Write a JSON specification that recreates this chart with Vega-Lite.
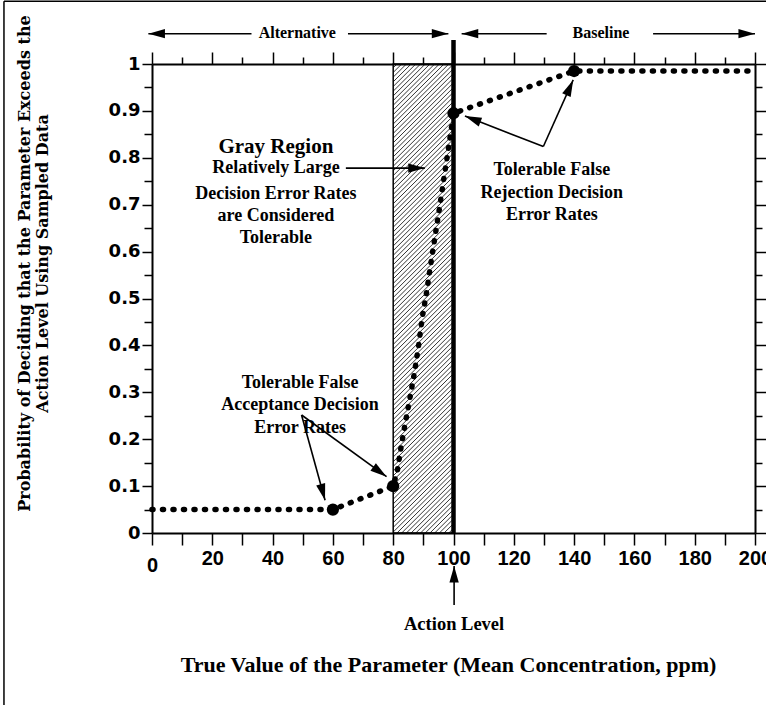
{
  "$schema": "https://vega.github.io/schema/vega-lite/v6.json",
  "width": 603,
  "height": 469,
  "autosize": {"type": "none"},
  "padding": {"left": 152, "top": 64, "right": 11, "bottom": 184},
  "background": "white",
  "config": {
    "view": {"stroke": null},
    "axis": {"grid": false, "domainColor": "black", "tickColor": "black", "labelColor": "black", "titleColor": "black"}
  },
  "datasets": {
    "curve": [
      {"x": 0, "y": 0.05}, {"x": 60, "y": 0.05}, {"x": 80, "y": 0.1},
      {"x": 81.4, "y": 0.134}, {"x": 82.8, "y": 0.191}, {"x": 84.2, "y": 0.241},
      {"x": 85.6, "y": 0.29}, {"x": 87, "y": 0.34}, {"x": 88.3, "y": 0.394},
      {"x": 89.7, "y": 0.462}, {"x": 91, "y": 0.51}, {"x": 92.5, "y": 0.575},
      {"x": 94.2, "y": 0.646}, {"x": 95.6, "y": 0.703}, {"x": 96.9, "y": 0.76},
      {"x": 98.1, "y": 0.81}, {"x": 99.2, "y": 0.859}, {"x": 100, "y": 0.895},
      {"x": 140, "y": 0.985}, {"x": 200, "y": 0.985}
    ],
    "dots": [
      {"x": 60, "y": 0.05}, {"x": 80, "y": 0.1}, {"x": 100, "y": 0.895}, {"x": 140, "y": 0.985}
    ],
    "hatch": [
      {"a":-0.128,"b":0},{"a":-0.118,"b":0.01},{"a":-0.108,"b":0.02},{"a":-0.098,"b":0.03},{"a":-0.088,"b":0.04},
      {"a":-0.078,"b":0.05},{"a":-0.068,"b":0.06},{"a":-0.058,"b":0.07},{"a":-0.048,"b":0.08},{"a":-0.038,"b":0.09},
      {"a":-0.028,"b":0.1},{"a":-0.018,"b":0.11},{"a":-0.008,"b":0.12},{"a":0.002,"b":0.13},{"a":0.012,"b":0.14},
      {"a":0.022,"b":0.15},{"a":0.032,"b":0.16},{"a":0.042,"b":0.17},{"a":0.052,"b":0.18},{"a":0.062,"b":0.19},
      {"a":0.072,"b":0.2},{"a":0.082,"b":0.21},{"a":0.092,"b":0.22},{"a":0.102,"b":0.23},{"a":0.112,"b":0.24},
      {"a":0.122,"b":0.25},{"a":0.132,"b":0.26},{"a":0.142,"b":0.27},{"a":0.152,"b":0.28},{"a":0.162,"b":0.29},
      {"a":0.172,"b":0.3},{"a":0.182,"b":0.31},{"a":0.192,"b":0.32},{"a":0.202,"b":0.33},{"a":0.212,"b":0.34},
      {"a":0.222,"b":0.35},{"a":0.232,"b":0.36},{"a":0.242,"b":0.37},{"a":0.252,"b":0.38},{"a":0.262,"b":0.39},
      {"a":0.272,"b":0.4},{"a":0.282,"b":0.41},{"a":0.292,"b":0.42},{"a":0.302,"b":0.43},{"a":0.312,"b":0.44},
      {"a":0.322,"b":0.45},{"a":0.332,"b":0.46},{"a":0.342,"b":0.47},{"a":0.352,"b":0.48},{"a":0.362,"b":0.49},
      {"a":0.372,"b":0.5},{"a":0.382,"b":0.51},{"a":0.392,"b":0.52},{"a":0.402,"b":0.53},{"a":0.412,"b":0.54},
      {"a":0.422,"b":0.55},{"a":0.432,"b":0.56},{"a":0.442,"b":0.57},{"a":0.452,"b":0.58},{"a":0.462,"b":0.59},
      {"a":0.472,"b":0.6},{"a":0.482,"b":0.61},{"a":0.492,"b":0.62},{"a":0.502,"b":0.63},{"a":0.512,"b":0.64},
      {"a":0.522,"b":0.65},{"a":0.532,"b":0.66},{"a":0.542,"b":0.67},{"a":0.552,"b":0.68},{"a":0.562,"b":0.69},
      {"a":0.572,"b":0.7},{"a":0.582,"b":0.71},{"a":0.592,"b":0.72},{"a":0.602,"b":0.73},{"a":0.612,"b":0.74},
      {"a":0.622,"b":0.75},{"a":0.632,"b":0.76},{"a":0.642,"b":0.77},{"a":0.652,"b":0.78},{"a":0.662,"b":0.79},
      {"a":0.672,"b":0.8},{"a":0.682,"b":0.81},{"a":0.692,"b":0.82},{"a":0.702,"b":0.83},{"a":0.712,"b":0.84},
      {"a":0.722,"b":0.85},{"a":0.732,"b":0.86},{"a":0.742,"b":0.87},{"a":0.752,"b":0.88},{"a":0.762,"b":0.89},
      {"a":0.772,"b":0.9},{"a":0.782,"b":0.91},{"a":0.792,"b":0.92},{"a":0.802,"b":0.93},{"a":0.812,"b":0.94},
      {"a":0.822,"b":0.95},{"a":0.832,"b":0.96},{"a":0.842,"b":0.97},{"a":0.852,"b":0.98},{"a":0.862,"b":0.99},
      {"a":0.872,"b":1},{"a":0.882,"b":1.01},{"a":0.892,"b":1.02},{"a":0.902,"b":1.03},{"a":0.912,"b":1.04},
      {"a":0.922,"b":1.05},{"a":0.932,"b":1.06},{"a":0.942,"b":1.07},{"a":0.952,"b":1.08},{"a":0.962,"b":1.09},
      {"a":0.972,"b":1.1},{"a":0.982,"b":1.11},{"a":0.992,"b":1.12},{"a":1.002,"b":1.13}
    ],
    "arrows": [
      {"id": "altL", "x1": 33, "y1": 1.0646, "x2": -1.2, "y2": 1.0646},
      {"id": "altR", "x1": 65, "y1": 1.0646, "x2": 98.3, "y2": 1.0646},
      {"id": "baseL", "x1": 130.9, "y1": 1.0646, "x2": 102.7, "y2": 1.0646},
      {"id": "baseR", "x1": 166.2, "y1": 1.0646, "x2": 200, "y2": 1.0646},
      {"id": "gray", "x1": 64.3, "y1": 0.778, "x2": 90.5, "y2": 0.778},
      {"id": "rej1", "x1": 129.8, "y1": 0.824, "x2": 103.8, "y2": 0.889},
      {"id": "rej2", "x1": 129.8, "y1": 0.824, "x2": 139.7, "y2": 0.966},
      {"id": "acc1", "x1": 49.6, "y1": 0.2516, "x2": 57.4, "y2": 0.07},
      {"id": "acc2", "x1": 49.6, "y1": 0.2516, "x2": 77.8, "y2": 0.12},
      {"id": "action", "x1": 100.2, "y1": -0.1535, "x2": 100.2, "y2": -0.0704}
    ],
    "toplabels": [
      {"t": "Alternative", "x": 48.2, "y": 1.055},
      {"t": "Baseline", "x": 148.9, "y": 1.055}
    ],
    "grayTitle": [
      {"t": "Gray Region", "x": 41.1, "y": 0.81}
    ],
    "notes": [
      {"t": "Relatively Large", "x": 41.1, "y": 0.768},
      {"t": "Decision Error Rates", "x": 41.1, "y": 0.712},
      {"t": "are Considered", "x": 41.1, "y": 0.665},
      {"t": "Tolerable", "x": 41.1, "y": 0.618},
      {"t": "Tolerable False", "x": 132.6, "y": 0.763},
      {"t": "Rejection Decision", "x": 132.6, "y": 0.714},
      {"t": "Error Rates", "x": 132.6, "y": 0.667},
      {"t": "Tolerable False", "x": 49.1, "y": 0.3085},
      {"t": "Acceptance Decision", "x": 49.1, "y": 0.262},
      {"t": "Error Rates", "x": 49.1, "y": 0.214}
    ],
    "actionLabel": [
      {"t": "Action Level", "x": 100.2, "y": -0.207}
    ],
    "frame": [
      {"x1": -49.1, "y1": -0.367, "x2": -49.1, "y2": 1.134},
      {"x1": -49.1, "y1": 1.134, "x2": 215, "y2": 1.134}
    ]
  },
  "layer": [
    {
      "data": {"name": "hatch"},
      "mark": {"type": "rule", "clip": true, "color": "black", "strokeWidth": 0.8},
      "encoding": {
        "x": {"datum": 80, "type": "quantitative", "scale": {"domain": [0, 200], "nice": false, "zero": false}, "axis": null},
        "x2": {"datum": 100},
        "y": {"field": "a", "type": "quantitative", "scale": {"domain": [0, 1], "nice": false, "zero": false}, "axis": null},
        "y2": {"field": "b"}
      }
    },
    {
      "data": {"values": [{}]},
      "mark": {"type": "rect", "fillOpacity": 0, "stroke": "black", "strokeWidth": 1.5},
      "encoding": {
        "x": {"datum": 80, "type": "quantitative", "scale": {"domain": [0, 200], "nice": false, "zero": false}, "axis": null},
        "x2": {"datum": 100},
        "y": {"datum": 0, "type": "quantitative", "scale": {"domain": [0, 1], "nice": false, "zero": false}, "axis": null},
        "y2": {"datum": 1}
      }
    },
    {
      "data": {"values": [{}]},
      "mark": {"type": "rule", "color": "black", "strokeWidth": 4.5},
      "encoding": {
        "x": {"datum": 100, "type": "quantitative", "scale": {"domain": [0, 200], "nice": false, "zero": false}, "axis": null},
        "y": {"datum": 0, "type": "quantitative", "scale": {"domain": [0, 1], "nice": false, "zero": false}, "axis": null},
        "y2": {"datum": 1.051}
      }
    },
    {
      "data": {"name": "curve"},
      "mark": {"type": "line", "color": "black", "strokeWidth": 5.5, "strokeDash": [1, 9.5], "strokeCap": "round"},
      "encoding": {
        "x": {
          "field": "x", "type": "quantitative",
          "scale": {"domain": [0, 200], "nice": false, "zero": false},
          "axis": {
            "orient": "bottom",
            "values": [0,10,20,30,40,50,60,70,80,90,100,110,120,130,140,150,160,170,180,190,200],
            "labelExpr": "datum.value % 20 == 0 ? datum.label : ''",
            "labelFlush": false, "labelOverlap": false,
            "tickSize": 12, "tickWidth": 1.5, "domainWidth": 2,
            "labelFont": "Liberation Sans", "labelFontSize": 20, "labelFontWeight": "bold",
            "labelPadding": {"condition": {"test": "datum.value == 0", "value": 10}, "value": 3},
            "title": "True Value of the Parameter (Mean Concentration, ppm)",
            "titleFont": "Liberation Serif", "titleFontSize": 22, "titleFontWeight": "bold",
            "titleX": 296, "titleY": 138, "titleAlign": "center", "titleBaseline": "alphabetic"
          }
        },
        "y": {
          "field": "y", "type": "quantitative",
          "scale": {"domain": [0, 1], "nice": false, "zero": false},
          "axis": {
            "orient": "left",
            "values": [0,0.05,0.1,0.15,0.2,0.25,0.3,0.35,0.4,0.45,0.5,0.55,0.6,0.65,0.7,0.75,0.8,0.85,0.9,0.95,1],
            "labelExpr": "round(datum.value*100) % 10 == 0 ? format(datum.value, '~g') : ''",
            "labelOverlap": false,
            "tickSize": {"condition": {"test": "round(datum.value*100) % 10 == 0", "value": 10}, "value": 8},
            "tickWidth": 1.5, "domainWidth": 2,
            "labelFont": "DejaVu Sans", "labelFontSize": 18, "labelFontWeight": "bold", "labelPadding": 2,
            "title": ["Probability of Deciding that the Parameter Exceeds the", "Action Level Using Sampled Data"],
            "titleFont": "DejaVu Serif", "titleFontSize": 16, "titleFontWeight": "bold", "titleLineHeight": 18,
            "titleX": -128, "titleY": 199, "titleAngle": -90, "titleAlign": "center", "titleBaseline": "middle"
          }
        }
      }
    },
    {
      "data": {"name": "dots"},
      "mark": {"type": "point", "filled": true, "color": "black", "opacity": 1, "size": 150},
      "encoding": {
        "x": {
          "field": "x", "type": "quantitative",
          "scale": {"domain": [0, 200], "nice": false, "zero": false},
          "axis": {
            "orient": "top",
            "values": [0,10,20,30,40,50,60,70,80,90,100,110,120,130,140,150,160,170,180,190,200],
            "labels": false, "title": null,
            "tickSize": {"condition": {"test": "datum.value % 20 == 0", "value": 12}, "value": 7},
            "tickWidth": 1.5, "domainWidth": 2
          }
        },
        "y": {
          "field": "y", "type": "quantitative",
          "scale": {"domain": [0, 1], "nice": false, "zero": false},
          "axis": {
            "orient": "right",
            "values": [0,0.05,0.1,0.15,0.2,0.25,0.3,0.35,0.4,0.45,0.5,0.55,0.6,0.65,0.7,0.75,0.8,0.85,0.9,0.95,1],
            "labels": false, "title": null,
            "tickSize": {"condition": {"test": "round(datum.value*100) % 10 == 0", "value": 12}, "value": 7},
            "tickWidth": 1.5, "domainWidth": 2
          }
        }
      }
    },
    {
      "data": {"name": "arrows"},
      "mark": {"type": "rule", "color": "black", "strokeWidth": 1.6},
      "encoding": {
        "x": {"field": "x1", "type": "quantitative", "scale": {"domain": [0, 200], "nice": false, "zero": false}, "axis": null},
        "x2": {"field": "x2"},
        "y": {"field": "y1", "type": "quantitative", "scale": {"domain": [0, 1], "nice": false, "zero": false}, "axis": null},
        "y2": {"field": "y2"}
      }
    },
    {
      "data": {"name": "arrows"},
      "transform": [{"filter": "indexof(['altR','baseR','gray'], datum.id) >= 0"}],
      "mark": {"type": "point", "shape": "M0,0L-1,-0.28L-1,0.28Z", "filled": true, "color": "black", "opacity": 1, "size": 1100, "angle": 0},
      "encoding": {
        "x": {"field": "x2", "type": "quantitative", "scale": {"domain": [0, 200], "nice": false, "zero": false}, "axis": null},
        "y": {"field": "y2", "type": "quantitative", "scale": {"domain": [0, 1], "nice": false, "zero": false}, "axis": null}
      }
    },
    {
      "data": {"name": "arrows"},
      "transform": [{"filter": "indexof(['altL','baseL'], datum.id) >= 0"}],
      "mark": {"type": "point", "shape": "M0,0L-1,-0.28L-1,0.28Z", "filled": true, "color": "black", "opacity": 1, "size": 1100, "angle": 180},
      "encoding": {
        "x": {"field": "x2", "type": "quantitative", "scale": {"domain": [0, 200], "nice": false, "zero": false}, "axis": null},
        "y": {"field": "y2", "type": "quantitative", "scale": {"domain": [0, 1], "nice": false, "zero": false}, "axis": null}
      }
    },
    {
      "data": {"name": "arrows"},
      "transform": [{"filter": "datum.id == 'action'"}],
      "mark": {"type": "point", "shape": "M0,0L-1,-0.28L-1,0.28Z", "filled": true, "color": "black", "opacity": 1, "size": 1100, "angle": -90},
      "encoding": {
        "x": {"field": "x2", "type": "quantitative", "scale": {"domain": [0, 200], "nice": false, "zero": false}, "axis": null},
        "y": {"field": "y2", "type": "quantitative", "scale": {"domain": [0, 1], "nice": false, "zero": false}, "axis": null}
      }
    },
    {
      "data": {"name": "arrows"},
      "transform": [{"filter": "datum.id == 'rej1'"}],
      "mark": {"type": "point", "shape": "M0,0L-1,-0.28L-1,0.28Z", "filled": true, "color": "black", "opacity": 1, "size": 1100, "angle": -158.7},
      "encoding": {
        "x": {"field": "x2", "type": "quantitative", "scale": {"domain": [0, 200], "nice": false, "zero": false}, "axis": null},
        "y": {"field": "y2", "type": "quantitative", "scale": {"domain": [0, 1], "nice": false, "zero": false}, "axis": null}
      }
    },
    {
      "data": {"name": "arrows"},
      "transform": [{"filter": "datum.id == 'rej2'"}],
      "mark": {"type": "point", "shape": "M0,0L-1,-0.28L-1,0.28Z", "filled": true, "color": "black", "opacity": 1, "size": 1100, "angle": -65.9},
      "encoding": {
        "x": {"field": "x2", "type": "quantitative", "scale": {"domain": [0, 200], "nice": false, "zero": false}, "axis": null},
        "y": {"field": "y2", "type": "quantitative", "scale": {"domain": [0, 1], "nice": false, "zero": false}, "axis": null}
      }
    },
    {
      "data": {"name": "arrows"},
      "transform": [{"filter": "datum.id == 'acc1'"}],
      "mark": {"type": "point", "shape": "M0,0L-1,-0.28L-1,0.28Z", "filled": true, "color": "black", "opacity": 1, "size": 1100, "angle": 74.6},
      "encoding": {
        "x": {"field": "x2", "type": "quantitative", "scale": {"domain": [0, 200], "nice": false, "zero": false}, "axis": null},
        "y": {"field": "y2", "type": "quantitative", "scale": {"domain": [0, 1], "nice": false, "zero": false}, "axis": null}
      }
    },
    {
      "data": {"name": "arrows"},
      "transform": [{"filter": "datum.id == 'acc2'"}],
      "mark": {"type": "point", "shape": "M0,0L-1,-0.28L-1,0.28Z", "filled": true, "color": "black", "opacity": 1, "size": 1100, "angle": 36},
      "encoding": {
        "x": {"field": "x2", "type": "quantitative", "scale": {"domain": [0, 200], "nice": false, "zero": false}, "axis": null},
        "y": {"field": "y2", "type": "quantitative", "scale": {"domain": [0, 1], "nice": false, "zero": false}, "axis": null}
      }
    },
    {
      "data": {"name": "toplabels"},
      "mark": {"type": "text", "font": "Liberation Serif", "fontWeight": "bold", "fontSize": 16, "align": "center", "baseline": "alphabetic", "color": "black"},
      "encoding": {
        "x": {"field": "x", "type": "quantitative", "scale": {"domain": [0, 200], "nice": false, "zero": false}, "axis": null},
        "y": {"field": "y", "type": "quantitative", "scale": {"domain": [0, 1], "nice": false, "zero": false}, "axis": null},
        "text": {"field": "t"}
      }
    },
    {
      "data": {"name": "grayTitle"},
      "mark": {"type": "text", "font": "Liberation Serif", "fontWeight": "bold", "fontSize": 21, "align": "center", "baseline": "alphabetic", "color": "black"},
      "encoding": {
        "x": {"field": "x", "type": "quantitative", "scale": {"domain": [0, 200], "nice": false, "zero": false}, "axis": null},
        "y": {"field": "y", "type": "quantitative", "scale": {"domain": [0, 1], "nice": false, "zero": false}, "axis": null},
        "text": {"field": "t"}
      }
    },
    {
      "data": {"name": "notes"},
      "mark": {"type": "text", "font": "Liberation Serif", "fontWeight": "bold", "fontSize": 18, "align": "center", "baseline": "alphabetic", "color": "black"},
      "encoding": {
        "x": {"field": "x", "type": "quantitative", "scale": {"domain": [0, 200], "nice": false, "zero": false}, "axis": null},
        "y": {"field": "y", "type": "quantitative", "scale": {"domain": [0, 1], "nice": false, "zero": false}, "axis": null},
        "text": {"field": "t"}
      }
    },
    {
      "data": {"name": "actionLabel"},
      "mark": {"type": "text", "font": "Liberation Serif", "fontWeight": "bold", "fontSize": 18.5, "align": "center", "baseline": "alphabetic", "color": "black"},
      "encoding": {
        "x": {"field": "x", "type": "quantitative", "scale": {"domain": [0, 200], "nice": false, "zero": false}, "axis": null},
        "y": {"field": "y", "type": "quantitative", "scale": {"domain": [0, 1], "nice": false, "zero": false}, "axis": null},
        "text": {"field": "t"}
      }
    },
    {
      "data": {"name": "frame"},
      "mark": {"type": "rule", "color": "black", "strokeWidth": 1.5},
      "encoding": {
        "x": {"field": "x1", "type": "quantitative", "scale": {"domain": [0, 200], "nice": false, "zero": false}, "axis": null},
        "x2": {"field": "x2"},
        "y": {"field": "y1", "type": "quantitative", "scale": {"domain": [0, 1], "nice": false, "zero": false}, "axis": null},
        "y2": {"field": "y2"}
      }
    }
  ],
  "resolve": {"axis": {"x": "independent", "y": "independent"}}
}
